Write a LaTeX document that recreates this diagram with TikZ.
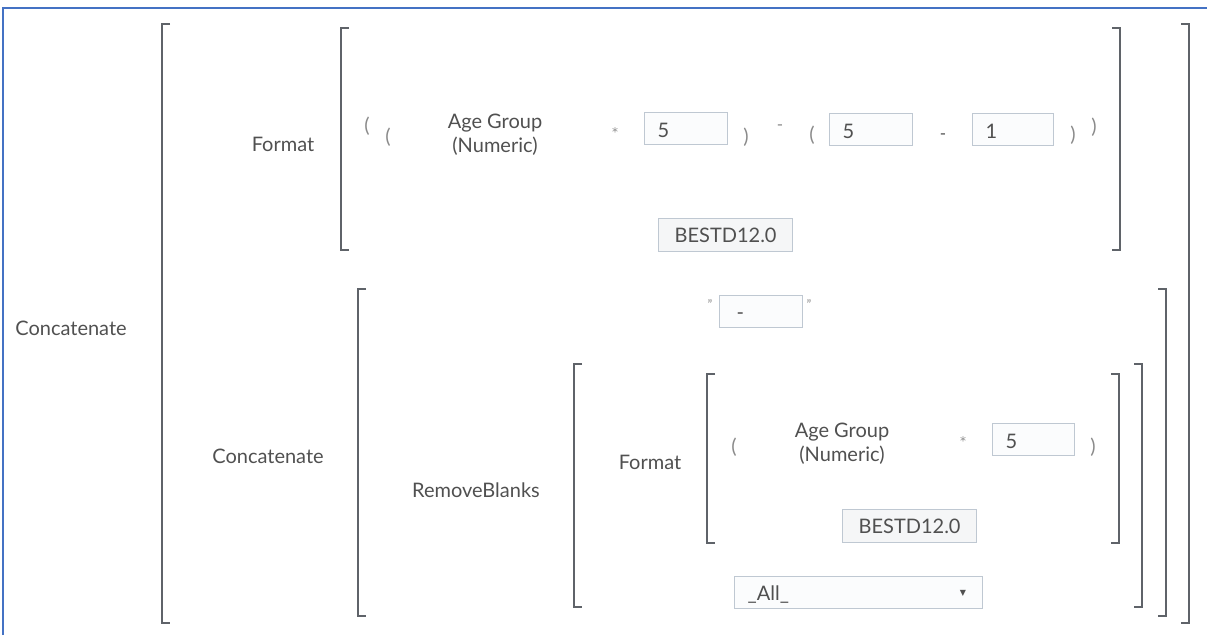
\documentclass[tikz,border=0pt]{standalone}
\usepackage{fontspec}
\setmainfont{Lato}
\newfontfamily\symfont{DejaVu Sans}
\definecolor{brkc}{HTML}{5F6369}
\definecolor{txt}{HTML}{505050}
\definecolor{lite}{HTML}{8A8A8A}
\definecolor{boxln}{HTML}{BFC8D2}
\definecolor{boxfill}{HTML}{FBFCFD}
\definecolor{fmtfill}{HTML}{F5F6F7}
\definecolor{framec}{HTML}{4472C4}
\begin{document}
\begin{tikzpicture}[x=1pt,y=-1pt,
  lbl/.style={text=txt, font=\fontsize{20}{24}\selectfont, inner sep=0pt, anchor=base},
  par/.style={text=lite, font=\fontsize{20}{24}\selectfont, inner sep=0pt, anchor=center},
  sym/.style={text=lite, font=\fontsize{17}{20}\selectfont, inner sep=0pt, anchor=north},
  star/.style={text=lite, font=\symfont\fontsize{12}{14}\selectfont, inner sep=0pt, anchor=north},
  brk/.style={draw=brkc, line width=2.6pt},
  vbox/.style={draw=boxln, fill=boxfill, line width=1.2pt, minimum height=32pt,
    inner ysep=0pt, inner xsep=13pt, anchor=north west, align=left, text=txt,
    font=\fontsize{20}{24}\selectfont, text height=18pt, text depth=0pt},
  fbox/.style={draw=boxln, fill=fmtfill, line width=1.2pt, minimum height=33pt,
    inner sep=0pt, anchor=north west, text=txt,
    font=\fontsize{20}{24}\selectfont, text height=15.5pt, text depth=0pt},
]
\useasboundingbox (0,0) rectangle (1207,635);
\draw[draw=framec, line width=2pt] (3,635) -- (3,8) -- (1207,8);

% brackets
\draw[brk] (170,24) -- (162,24) -- (162,623) -- (170,623);
\draw[brk] (1181,24) -- (1189,24) -- (1189,623) -- (1181,623);
\draw[brk] (349,28) -- (341,28) -- (341,250) -- (349,250);
\draw[brk] (1112,28) -- (1120,28) -- (1120,250) -- (1112,250);
\draw[brk] (366,289) -- (358,289) -- (358,616) -- (366,616);
\draw[brk] (1158,289) -- (1166,289) -- (1166,616) -- (1158,616);
\draw[brk] (582,364) -- (574,364) -- (574,607) -- (582,607);
\draw[brk] (1134,364) -- (1142,364) -- (1142,607) -- (1134,607);
\draw[brk] (715,374) -- (707,374) -- (707,543) -- (715,543);
\draw[brk] (1111,374) -- (1119,374) -- (1119,543) -- (1111,543);

% labels
\node[lbl] (cat1) at (71,335) {Concatenate};
\node[lbl] (fmt1) at (283,151) {Format};
\node[lbl] (ag1a) at (495,128) {Age Group};
\node[lbl] (ag1b) at (495,152) {(Numeric)};
\node[lbl] (cat2) at (268,463) {Concatenate};
\node[lbl] (rb) at (476,497) {RemoveBlanks};
\node[lbl] (fmt2) at (650,469) {Format};
\node[lbl] (ag2a) at (842,437) {Age Group};
\node[lbl] (ag2b) at (842,461) {(Numeric)};

% operators and parentheses, row 1
\node[par] (p1) at (367,126) {(};
\node[par] (p2) at (388,137) {(};
\node[star] (m1) at (615,127) {*};
\node[par] (p3) at (746,137) {)};
\node[sym] (s1) at (780,125) {-};
\node[par] (p4) at (812,135) {(};
\node[sym, text=txt] (s2) at (943,134) {-};
\node[par] (p5) at (1073,135) {)};
\node[par] (p6) at (1094,127) {)};

% row 2
\node[par] (p7) at (734,447) {(};
\node[star] (m2) at (963,436) {*};
\node[par] (p8) at (1093,447) {)};
\node[sym, font=\fontsize{13}{14}\selectfont] (q1) at (710,299) {"};
\node[sym, font=\fontsize{13}{14}\selectfont] (q2) at (809,299) {"};

% value boxes
\node[vbox, minimum width=83pt, text width=57pt] (v1) at (644,112) {5};
\node[vbox, minimum width=83pt, text width=57pt] (v2) at (829,113) {5};
\node[vbox, minimum width=81pt, text width=55pt] (v3) at (972,113) {1};
\node[vbox, minimum width=83pt, inner xsep=17pt, text width=49pt, text height=16pt] (vq) at (719,295) {-};
\node[vbox, minimum width=82pt, text width=56pt] (v4) at (992,423) {5};
\node[fbox, minimum width=134pt] (bf1) at (658,218) {BESTD12.0};
\node[fbox, minimum width=134pt] (bf2) at (842,509) {BESTD12.0};
\node[vbox, minimum width=248pt, text width=222pt, text height=16pt] (all) at (734,576) {\_All\_};
\node[inner sep=0pt, text=txt, font=\symfont\fontsize{8}{9}\selectfont] (arr) at (963,593) {▼};
\end{tikzpicture}
\end{document}
